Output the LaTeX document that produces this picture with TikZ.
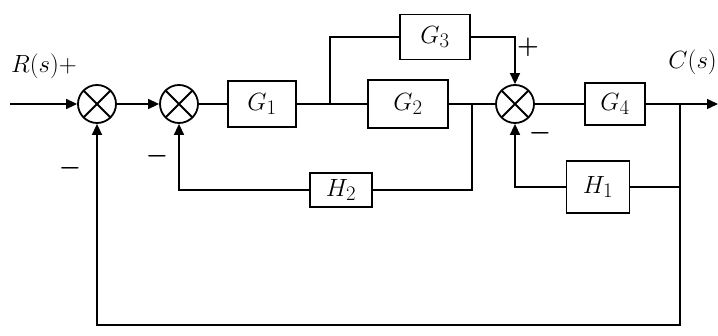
\documentclass[tikz,border=0pt]{standalone}
\usetikzlibrary{arrows.meta,calc}
\begin{document}
\begin{tikzpicture}[x=1pt,y=-1pt,
  wire/.style={line width=1.5pt},
  >={Triangle[length=11pt,width=10pt]},
  blk/.style={draw,line width=1.6pt,inner sep=0pt,font=\fontsize{30}{32}\selectfont},
  summer/.style={draw,circle,line width=1.8pt,minimum size=38pt,inner sep=0pt,
    path picture={\draw[line width=1.8pt]
      (path picture bounding box.north west) -- (path picture bounding box.south east)
      (path picture bounding box.north east) -- (path picture bounding box.south west);}},
  lbl/.style={font=\fontsize{27}{29}\selectfont,inner sep=1pt},
  sgn/.style={font=\fontsize{32}{34}\selectfont\boldmath,inner sep=0pt}]
\useasboundingbox (0,0) rectangle (718,336);
% blocks and summers
\node[summer] (s1) at (97,104) {};
\node[summer] (s2) at (179,104) {};
\node[blk,minimum width=68pt,minimum height=46pt] (G1) at (262,104) {$G_1$};
\node[blk,minimum width=80pt,minimum height=48pt] (G2) at (408,104) {$G_2$};
\node[blk,minimum width=70pt,minimum height=45pt] (G3) at (435,37) {$G_3$};
\node[summer] (s3) at (515,104) {};
\node[blk,minimum width=60pt,minimum height=42pt] (G4) at (615,104) {$G_4$};
\node[blk,minimum width=63pt,minimum height=52pt] (H1) at (598,187) {$H_1$};
\node[blk,minimum width=62pt,minimum height=34pt] (H2) at (341,190) {$H_2$};
% points
\coordinate (in) at (10,104);
\coordinate (out) at (718,104);
\coordinate (b1) at (330,104);
\coordinate (b2) at (472,104);
\coordinate (b3) at (680,104);
\coordinate (b4) at (680,325);
% forward path
\draw[wire,->] (in) -- (s1);
\draw[wire,->] (s1) -- (s2);
\draw[wire] (s2) -- (G1);
\draw[wire] (G1) -- (G2);
\draw[wire] (G2) -- (s3);
\draw[wire] (s3) -- (G4);
\draw[wire,->] (G4) -- (out);
% G3 parallel path
\draw[wire] (b1) |- (G3);
\draw[wire,->] (G3) -| (s3);
% H2 feedback
\draw[wire] (b2) |- (H2);
\draw[wire,->] (H2) -| (s2);
% H1 feedback
\draw[wire] (b3) |- (H1);
\draw[wire,->] (H1) -| (s3);
% unity feedback
\draw[wire,->] (b3) -- (b4) -| (s1);
% labels
\node[lbl] (R) at (44,66) {$R(s)+$};
\node[lbl,anchor=east] (C) at (718,62) {$C(s)$};
\node[sgn] (m1) at (70,168) {$-$};
\node[sgn] (m2) at (157,156) {$-$};
\node[sgn] (m3) at (540,133) {$-$};
\node[sgn] (p3) at (528,47) {$+$};
\end{tikzpicture}
\end{document}
